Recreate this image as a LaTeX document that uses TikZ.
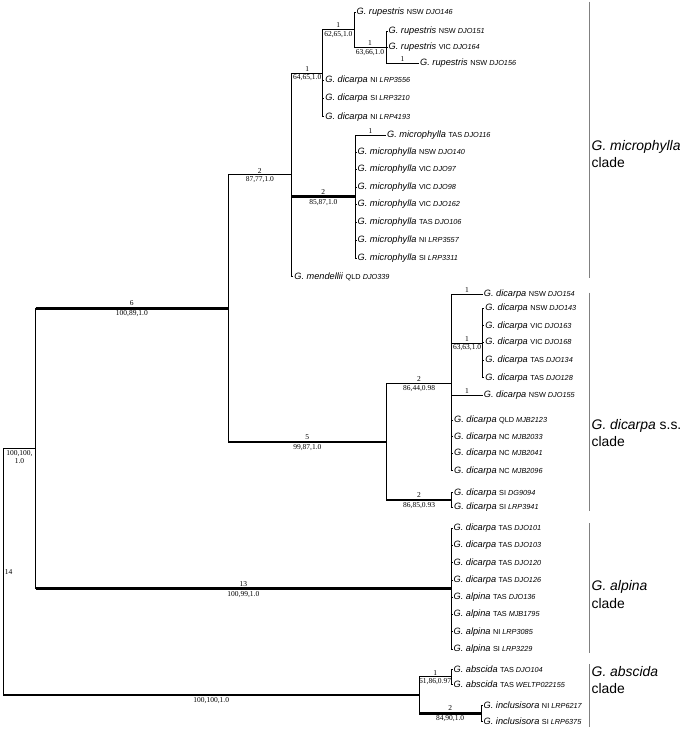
\documentclass[tikz,border=0pt]{standalone}
\usepackage{fontspec}
\setmainfont{Liberation Sans}
\newfontfamily\numfont{Liberation Serif}

\newcommand{\taxon}[3]{\textit{G. #1} {\fontsize{7.3}{8}\selectfont #2 \textit{#3}}}

\tikzset{
  leaf/.style={anchor=west, inner sep=1pt, font=\fontsize{9.2}{10}\selectfont},
  branch/.style={line width=1pt},
  heavy/.style={line width=2.6pt},
  mid/.style={line width=1.6pt},
  cnt/.style={above, inner sep=1.3pt, font=\numfont\fontsize{7.5}{8}\selectfont},
  stats/.style={below, inner sep=1.3pt, font=\numfont\fontsize{7.5}{8}\selectfont},
  cladebar/.style={draw=gray, line width=1.6pt},
  cladename/.style={anchor=west, align=left, inner sep=1pt, font=\fontsize{13.9}{17.5}\selectfont}
}

\begin{document}
\begin{tikzpicture}[x=1pt, y=-1pt]
\useasboundingbox (0,0) rectangle (685,729);

% internal nodes
\coordinate (root)  at (3.3,571.8);
\coordinate (ingrp) at (35.7,448.5);
\coordinate (n6)    at (228,308.4);
\coordinate (mic)   at (291.7,174.8);
\coordinate (rupA)  at (322.7,73);
\coordinate (rupB)  at (354,29.5);
\coordinate (rupC)  at (386,47.4);
\coordinate (micD)  at (355,196.6);
\coordinate (n5)    at (386.7,442);
\coordinate (dicA)  at (451.5,383.5);
\coordinate (dicB)  at (482.7,343);
\coordinate (dicC)  at (451.5,500);
\coordinate (n13)   at (451,588.7);
\coordinate (absA)  at (419.3,695);
\coordinate (absB)  at (451,676.8);
\coordinate (absC)  at (481,713.3);

% leaves, microphylla clade
\node[leaf] (r146)  at (355.5,12)    {\taxon{rupestris}{NSW}{DJO146}};
\node[leaf] (r151)  at (387.5,31.5)  {\taxon{rupestris}{NSW}{DJO151}};
\node[leaf] (r164)  at (387.5,47)    {\taxon{rupestris}{VIC}{DJO164}};
\node[leaf] (r156)  at (419,63.3)    {\taxon{rupestris}{NSW}{DJO156}};
\node[leaf] (d3556) at (324.2,80)    {\taxon{dicarpa}{NI}{LRP3556}};
\node[leaf] (d3210) at (324.2,98.3)  {\taxon{dicarpa}{SI}{LRP3210}};
\node[leaf] (d4193) at (324.2,116.7) {\taxon{dicarpa}{NI}{LRP4193}};
\node[leaf] (m116)  at (386,135)     {\taxon{microphylla}{TAS}{DJO116}};
\node[leaf] (m140)  at (356.5,152)   {\taxon{microphylla}{NSW}{DJO140}};
\node[leaf] (m97)   at (356.5,169.5) {\taxon{microphylla}{VIC}{DJO97}};
\node[leaf] (m98)   at (356.5,187)   {\taxon{microphylla}{VIC}{DJO98}};
\node[leaf] (m162)  at (356.5,204.5) {\taxon{microphylla}{VIC}{DJO162}};
\node[leaf] (m106)  at (356.5,222.5) {\taxon{microphylla}{TAS}{DJO106}};
\node[leaf] (m3557) at (356.5,240)   {\taxon{microphylla}{NI}{LRP3557}};
\node[leaf] (m3311) at (356.5,258.3) {\taxon{microphylla}{SI}{LRP3311}};
\node[leaf] (mend)  at (293.2,276.7) {\taxon{mendellii}{QLD}{DJO339}};

% leaves, dicarpa s.s. clade
\node[leaf] (d154)  at (482.7,294.3) {\taxon{dicarpa}{NSW}{DJO154}};
\node[leaf] (d143)  at (484.2,308.3) {\taxon{dicarpa}{NSW}{DJO143}};
\node[leaf] (d163)  at (484.2,325.7) {\taxon{dicarpa}{VIC}{DJO163}};
\node[leaf] (d168)  at (484.2,342.5) {\taxon{dicarpa}{VIC}{DJO168}};
\node[leaf] (d134)  at (484.2,360)   {\taxon{dicarpa}{TAS}{DJO134}};
\node[leaf] (d128)  at (484.2,377.7) {\taxon{dicarpa}{TAS}{DJO128}};
\node[leaf] (d155)  at (482.7,395)   {\taxon{dicarpa}{NSW}{DJO155}};
\node[leaf] (d2123) at (453,420)     {\taxon{dicarpa}{QLD}{MJB2123}};
\node[leaf] (d2033) at (453,436.7)   {\taxon{dicarpa}{NC}{MJB2033}};
\node[leaf] (d2041) at (453,453.3)   {\taxon{dicarpa}{NC}{MJB2041}};
\node[leaf] (d2096) at (453,470.7)   {\taxon{dicarpa}{NC}{MJB2096}};
\node[leaf] (d9094) at (453,492.7)   {\taxon{dicarpa}{SI}{DG9094}};
\node[leaf] (d3941) at (453,507.3)   {\taxon{dicarpa}{SI}{LRP3941}};

% leaves, alpina clade
\node[leaf] (a101)  at (452.5,528.3) {\taxon{dicarpa}{TAS}{DJO101}};
\node[leaf] (a103)  at (452.5,545.6) {\taxon{dicarpa}{TAS}{DJO103}};
\node[leaf] (a120)  at (452.5,562.8) {\taxon{dicarpa}{TAS}{DJO120}};
\node[leaf] (a126)  at (452.5,580)   {\taxon{dicarpa}{TAS}{DJO126}};
\node[leaf] (a136)  at (452.5,597.3) {\taxon{alpina}{TAS}{DJO136}};
\node[leaf] (a1795) at (452.5,614.5) {\taxon{alpina}{TAS}{MJB1795}};
\node[leaf] (a3085) at (452.5,631.8) {\taxon{alpina}{NI}{LRP3085}};
\node[leaf] (a3229) at (452.5,649)   {\taxon{alpina}{SI}{LRP3229}};

% leaves, abscida clade
\node[leaf] (b104)  at (452.5,669.3) {\taxon{abscida}{TAS}{DJO104}};
\node[leaf] (b2155) at (452.5,684.3) {\taxon{abscida}{TAS}{WELTP022155}};
\node[leaf] (i6217) at (482.5,705)   {\taxon{inclusisora}{NI}{LRP6217}};
\node[leaf] (i6375) at (482.5,721.7) {\taxon{inclusisora}{SI}{LRP6375}};

% root
\node[cnt, anchor=west] (rootcnt) at (root) {14};
\draw[branch] (root) |- (ingrp) node[stats, pos=0.75, align=center] {100,100,\\1.0};
\draw[branch] (root) |- (absA);
\draw[heavy] (root |- absA) -- (absA) node[stats, midway] {100,100,1.0};

% ingroup
\draw[branch] (ingrp) |- (n6);
\draw[heavy] (ingrp |- n6) -- (n6) node[cnt, midway] {6} node[stats, midway] {100,89,1.0};
\draw[branch] (ingrp) |- (n13);
\draw[heavy] (ingrp |- n13) -- (n13) node[cnt, midway] {13} node[stats, midway] {100,99,1.0};

% n6
\draw[branch] (n6) |- (mic) node[cnt, pos=0.75] {2} node[stats, pos=0.75] {87,77,1.0};
\draw[branch] (n6) |- (n5);
\draw[heavy] (n6 |- n5) -- (n5) node[cnt, midway] {5} node[stats, midway] {99,87,1.0};

% microphylla clade
\draw[branch] (mic) |- (rupA) node[cnt, pos=0.75] {1} node[stats, pos=0.75] {64,65,1.0};
\draw[branch] (mic) |- (micD);
\draw[heavy] (mic |- micD) -- (micD) node[cnt, midway] {2} node[stats, midway] {85,87,1.0};
\draw[branch] (mic) |- (mend.west);
\draw[branch] (rupA) |- (rupB) node[cnt, pos=0.75] {1} node[stats, pos=0.75] {62,65,1.0};
\foreach \t in {d3556,d3210,d4193} \draw[branch] (rupA) |- (\t.west);
\draw[branch] (rupB) |- (r146.west);
\draw[branch] (rupB) |- (rupC) node[cnt, pos=0.75] {1} node[stats, pos=0.75] {63,66,1.0};
\foreach \t in {r151,r164} \draw[branch] (rupC) |- (\t.west);
\draw[branch] (rupC) |- (r156.west) node[cnt, pos=0.75] {1};
\draw[branch] (micD) |- (m116.west) node[cnt, pos=0.75] {1};
\foreach \t in {m140,m97,m98,m162,m106,m3557,m3311} \draw[branch] (micD) |- (\t.west);

% dicarpa s.s. clade
\draw[branch] (n5) |- (dicA);
\draw[mid] (n5 |- dicA) -- (dicA) node[cnt, midway] {2} node[stats, midway] {86,44,0.98};
\draw[branch] (n5) |- (dicC);
\draw[heavy] (n5 |- dicC) -- (dicC) node[cnt, midway] {2} node[stats, midway] {86,85,0.93};
\draw[branch] (dicA) |- (d154.west) node[cnt, pos=0.75] {1};
\draw[branch] (dicA) |- (dicB) node[cnt, pos=0.75] {1} node[stats, pos=0.75] {63,63,1.0};
\draw[branch] (dicA) |- (d155.west) node[cnt, pos=0.75] {1};
\foreach \t in {d2123,d2033,d2041,d2096} \draw[branch] (dicA) |- (\t.west);
\foreach \t in {d143,d163,d168,d134,d128} \draw[branch] (dicB) |- (\t.west);
\foreach \t in {d9094,d3941} \draw[branch] (dicC) |- (\t.west);

% alpina clade
\foreach \t in {a101,a103,a120,a126,a136,a1795,a3085,a3229} \draw[branch] (n13) |- (\t.west);

% abscida clade
\draw[branch] (absA) |- (absB) node[cnt, pos=0.75] {1} node[stats, pos=0.75] {61,86,0.97};
\draw[branch] (absA) |- (absC);
\draw[heavy] (absA |- absC) -- (absC) node[cnt, midway] {2} node[stats, midway] {84,90,1.0};
\foreach \t in {b104,b2155} \draw[branch] (absB) |- (\t.west);
\foreach \t in {i6217,i6375} \draw[branch] (absC) |- (\t.west);

% clade bars
\draw[cladebar] (589.3,1.7) -- (589.3,278.3);
\draw[cladebar] (589.3,292.7) -- (589.3,511);
\draw[cladebar] (589.3,523.3) -- (589.3,653.3);
\draw[cladebar] (589.3,664) -- (589.3,726.7);
\node[cladename] (cMic) at (590.5,154)   {\textit{G. microphylla}\\clade};
\node[cladename] (cDic) at (590.5,433)   {\textit{G. dicarpa} s.s.\\clade};
\node[cladename] (cAlp) at (590.5,594.7) {\textit{G. alpina}\\clade};
\node[cladename] (cAbs) at (590.5,680)   {\textit{G. abscida}\\clade};
\end{tikzpicture}
\end{document}
